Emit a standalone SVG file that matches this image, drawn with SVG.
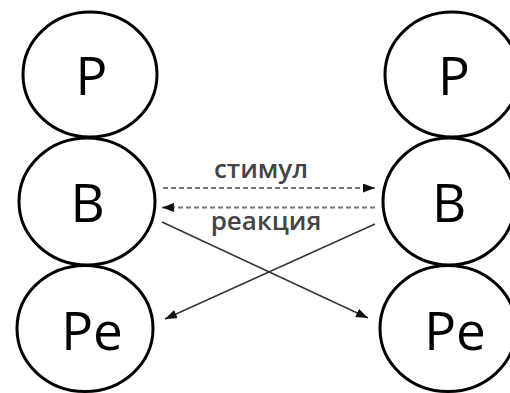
<svg xmlns="http://www.w3.org/2000/svg" width="510" height="393" viewBox="0 0 510 393">
<style>
.node ellipse{fill:#fff;stroke:#000;stroke-width:3}
.node text{font-family:"Open Sans","DejaVu Sans",sans-serif;font-size:53px;fill:#000;text-anchor:middle}
.lbl{font-family:"Open Sans","DejaVu Sans",sans-serif;font-size:26px;font-weight:600;fill:#444;text-anchor:middle}
.dash{stroke:#777;stroke-width:2;stroke-dasharray:5 3;fill:none}
.solid{stroke:#333;stroke-width:1.4;fill:none}
</style>
<defs>
<marker id="ah" markerUnits="userSpaceOnUse" markerWidth="13" markerHeight="10" refX="12" refY="4.5" orient="auto">
<path d="M0,0 L12,4.5 L0,9 z" fill="#111"/>
</marker>
</defs>
<rect width="510" height="393" fill="#fff"/>
<g id="connectors">
<line class="dash" x1="163" y1="188" x2="375" y2="188" marker-end="url(#ah)"/>
<line class="dash" x1="375" y1="207.5" x2="162" y2="207.5" marker-end="url(#ah)"/>
<line class="solid" x1="162" y1="222" x2="368" y2="318" marker-end="url(#ah)"/>
<line class="solid" x1="375" y1="224" x2="165" y2="319" marker-end="url(#ah)"/>
<text class="lbl" x="261" y="178">стимул</text>
<text class="lbl" x="266" y="230">реакция</text>
</g>
<g id="left-P" class="node"><ellipse cx="90" cy="74.5" rx="67" ry="62.5"/><text x="91.5" y="95">P</text></g>
<g id="left-B" class="node"><ellipse cx="87" cy="201.5" rx="68" ry="63.5"/><text x="87.5" y="222">B</text></g>
<g id="left-Pe" class="node"><ellipse cx="85" cy="328.5" rx="68" ry="63"/><text x="92" y="350">Pe</text></g>
<g id="right-P" class="node"><ellipse cx="452" cy="74.5" rx="67" ry="62.5"/><text x="454" y="95">P</text></g>
<g id="right-B" class="node"><ellipse cx="449" cy="201.5" rx="66" ry="63.5"/><text x="449" y="222">B</text></g>
<g id="right-Pe" class="node"><ellipse cx="448" cy="328.5" rx="68" ry="63"/><text x="455" y="350">Pe</text></g>
</svg>
